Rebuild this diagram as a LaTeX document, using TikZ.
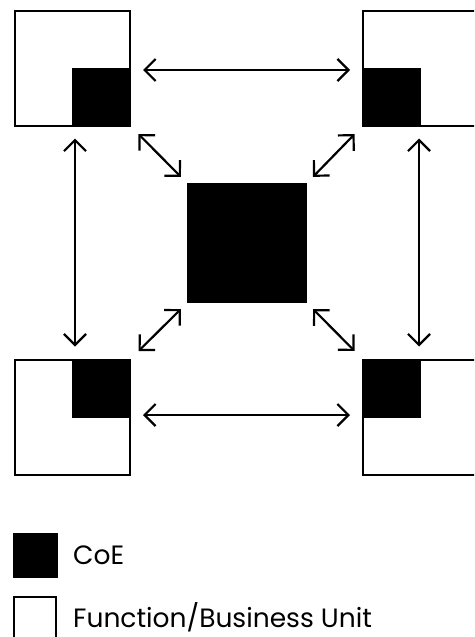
\documentclass[tikz,border=0pt]{standalone}
\usepackage{fontspec}
\setmainfont{Poppins}
\usetikzlibrary{arrows.meta}
\begin{document}
\begin{tikzpicture}[x=1pt,y=-1pt,
  unitbox/.style={draw=black,fill=white,line width=2pt,minimum size=115pt,inner sep=0pt,outer sep=0pt},
  coebox/.style={draw=black,fill=black,line width=2pt,minimum size=57pt,inner sep=0pt,outer sep=0pt},
  bigcoe/.style={draw=black,fill=black,line width=2pt,minimum size=118pt,inner sep=0pt,outer sep=0pt},
  link/.style={line width=2.2pt,{Straight Barb[length=11pt,width=22pt]}-{Straight Barb[length=11pt,width=22pt]}},
  legtext/.style={anchor=base west,inner sep=0pt,font=\fontsize{26.5}{30}\selectfont}]
\useasboundingbox (0,0) rectangle (474,637);
\clip (0,0) rectangle (474,637);
% unit boxes
\node[unitbox] (tl) at (72.5,68) {};
\node[unitbox] (tr) at (420.5,68) {};
\node[unitbox] (bl) at (72.5,417) {};
\node[unitbox] (br) at (420.5,417) {};
% CoE squares inside units
\node[coebox,anchor=south east] (tlc) at (tl.south east) {};
\node[coebox,anchor=south west] (trc) at (tr.south west) {};
\node[coebox,anchor=north east] (blc) at (bl.north east) {};
\node[coebox,anchor=north west] (brc) at (br.north west) {};
% central CoE
\node[bigcoe] (c) at (247,243) {};
% connectors
\draw[link,shorten <=13pt,shorten >=13pt] ([yshift=-2pt]tl.east) -- ([yshift=-2pt]tr.west);
\draw[link,shorten <=13pt,shorten >=13pt] ([yshift=2pt]bl.east) -- ([yshift=2pt]br.west);
\draw[link,shorten <=13pt,shorten >=13pt] ([xshift=2.5pt]tl.south) -- ([xshift=2.5pt]bl.north);
\draw[link,shorten <=13pt,shorten >=13pt] ([xshift=-1.5pt]tr.south) -- ([xshift=-1.5pt]br.north);
\draw[link,shorten <=12pt,shorten >=10pt] (tl.south east) -- (c.north west);
\draw[link,shorten <=12pt,shorten >=10pt] (tr.south west) -- (c.north east);
\draw[link,shorten <=12pt,shorten >=10pt] (bl.north east) -- (c.south west);
\draw[link,shorten <=12pt,shorten >=10pt] (br.north west) -- (c.south east);
% legend
\node[draw=black,fill=black,line width=2pt,minimum size=43pt,inner sep=0pt] (lcoe) at (35.5,555.5) {};
\node[draw=black,fill=white,line width=2pt,minimum size=42pt,inner sep=0pt] (lunit) at (35,618) {};
\node[legtext] (tcoe) at (73,564.5) {CoE};
\node[legtext] (tunit) at (73,627.5) {Function/Business Unit};
\end{tikzpicture}
\end{document}
